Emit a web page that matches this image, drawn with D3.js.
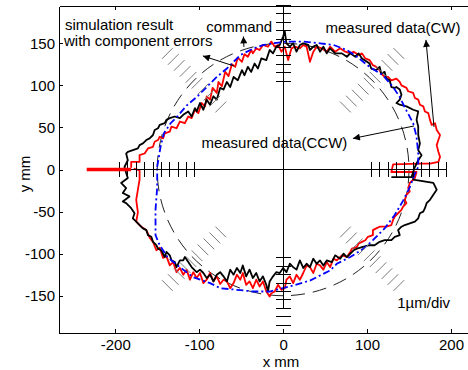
<!DOCTYPE html>
<html>
<head>
<meta charset="utf-8">
<script src="https://cdn.jsdelivr.net/npm/d3@7"></script>
<style>
  body { margin: 0; background: #fff; }
  svg { display: block; font-family: Arial, "Liberation Sans", sans-serif; }
</style>
</head>
<body>
<div class="polar-chart"></div>
<script>
// axis ticks (mm)
const xTicks = [-200, -100, 0, 100, 200];
const yTicks = [-150, -100, -50, 0, 50, 100, 150];

// commanded circle radius (mm)
const commandRadius = 150;

// 1um/div scale marks: radii and directions
const scaleRadii = [105, 115, 125, 135, 145, 155, 165, 175, 185, 195];
const scaleAngles = [0, 45, 90, 135, 180, 225, 270, 315];

// approach segment of the CW run
const leadIn = [[-234, 0], [-181, 0]];

// measured data (CW), x/y mm
const cwData = [
  [-181,2],[-181,9],[-171,9],[-171,17],[-165,19],[-161,25],[-155,27],[-153,33],[-149,35],[-147,39],
  [-143,37],[-141,43],[-135,45],[-133,51],[-127,49],[-123,57],[-117,55],[-113,63],[-109,61],[-105,71],
  [-101,67],[-97,79],[-93,75],[-91,87],[-87,83],[-84,97],[-79,91],[-77,104],[-73,99],[-69,116],
  [-65,111],[-61,125],[-57,122],[-54,133],[-49,128],[-46,137],[-42,134],[-38,142],[-36,138],[-32,144],
  [-28,142],[-24,148],[-18,146],[-14,152],[-10,146],[-6,148],[-2,140],[2,146],[6,130],[10,144],
  [14,146],[20,144],[24,148],[28,146],[32,128],[36,140],[40,146],[46,144],[52,140],[56,146],
  [62,140],[68,144],[74,140],[80,138],[84,140],[90,136],[94,138],[98,132],[103,130],[107,124],
  [111,122],[115,118],[117,114],[121,110],[125,110],[129,106],[135,108],[139,104],[141,100],[147,97],
  [149,93],[155,91],[157,85],[161,83],[163,77],[167,75],[169,69],[173,67],[175,59],[177,53],
  [181,55],[183,47],[187,41],[185,35],[183,29],[185,21],[187,15],[185,9],[175,7],[163,7],
  [131,6],[129,-3],[159,-3],[157,-10],[155,-12],[151,-16],[149,-22],[151,-26],[147,-30],[145,-36],
  [147,-40],[143,-44],[141,-48],[137,-52],[133,-56],[131,-60],[129,-66],[123,-68],[115,-68],[111,-70],
  [107,-72],[107,-78],[101,-80],[98,-84],[94,-86],[90,-88],[88,-92],[82,-94],[80,-98],[76,-104],
  [70,-102],[64,-108],[60,-106],[56,-116],[52,-110],[48,-119],[44,-114],[40,-112],[36,-123],[32,-116],
  [28,-114],[24,-123],[20,-131],[16,-125],[12,-135],[8,-127],[4,-131],[2,-141],[-2,-143],[-6,-137],
  [-10,-145],[-14,-147],[-16,-151],[-20,-145],[-24,-133],[-28,-139],[-32,-131],[-36,-141],[-40,-133],[-44,-137],
  [-48,-123],[-51,-131],[-55,-125],[-59,-135],[-63,-141],[-67,-133],[-71,-131],[-75,-136],[-79,-127],[-83,-133],
  [-87,-123],[-91,-131],[-95,-135],[-99,-123],[-103,-129],[-107,-122],[-111,-131],[-115,-119],[-119,-125],[-123,-117],
  [-127,-122],[-131,-110],[-135,-114],[-139,-103],[-143,-105],[-147,-93],[-151,-96],[-155,-86],[-159,-81],[-163,-72],
  [-169,-68],[-175,-62],[-173,-51],[-175,-36],[-173,-24],[-171,-12],[-171,-1],[-178,1]
];

// measured data (CCW), x/y mm
const ccwData = [
  [129,-9],[155,-9],[155,-12],[179,-16],[183,-24],[179,-30],[175,-36],[171,-40],[169,-46],[167,-50],
  [163,-52],[161,-58],[157,-62],[151,-64],[145,-66],[141,-68],[137,-72],[139,-78],[133,-80],[129,-84],
  [121,-84],[115,-86],[109,-90],[103,-90],[95,-92],[88,-94],[84,-96],[76,-104],[72,-100],[68,-106],
  [62,-102],[58,-110],[52,-108],[48,-114],[44,-108],[40,-112],[36,-106],[32,-116],[28,-112],[24,-117],
  [20,-108],[16,-119],[12,-116],[8,-112],[4,-122],[0,-117],[-4,-123],[-8,-122],[-12,-127],[-16,-133],
  [-18,-145],[-20,-137],[-24,-127],[-28,-133],[-32,-123],[-36,-129],[-40,-119],[-44,-127],[-48,-114],[-51,-123],
  [-55,-117],[-59,-125],[-63,-119],[-67,-133],[-71,-127],[-75,-122],[-79,-125],[-83,-133],[-87,-125],[-91,-129],
  [-95,-123],[-99,-119],[-103,-122],[-109,-116],[-113,-110],[-117,-104],[-119,-108],[-123,-108],[-127,-116],[-129,-110],
  [-133,-108],[-135,-102],[-139,-98],[-141,-104],[-145,-96],[-149,-94],[-151,-90],[-155,-86],[-157,-80],[-161,-78],
  [-163,-72],[-167,-70],[-171,-66],[-175,-62],[-179,-58],[-177,-52],[-181,-46],[-187,-40],[-191,-38],[-183,-32],
  [-191,-28],[-187,-22],[-193,-16],[-185,-10],[-187,-4],[-189,3],[-185,11],[-187,19],[-185,21],[-179,23],
  [-173,25],[-171,29],[-167,31],[-163,35],[-159,37],[-155,41],[-153,47],[-149,49],[-147,53],[-141,55],
  [-139,59],[-135,61],[-129,63],[-123,61],[-119,65],[-113,69],[-109,63],[-105,73],[-103,69],[-99,79],
  [-95,71],[-91,83],[-87,77],[-83,87],[-79,83],[-75,97],[-71,95],[-67,104],[-63,98],[-59,110],
  [-54,106],[-49,118],[-46,112],[-42,122],[-38,116],[-34,126],[-30,120],[-26,132],[-20,130],[-16,142],
  [-12,138],[-8,146],[-4,148],[0,158],[2,164],[4,150],[8,146],[12,150],[16,140],[20,148],
  [24,150],[30,148],[32,142],[36,146],[40,148],[44,140],[48,146],[52,138],[56,144],[62,138],
  [70,138],[76,134],[80,138],[86,134],[90,138],[94,132],[100,128],[103,126],[105,120],[111,118],
  [115,122],[117,114],[121,116],[123,108],[127,106],[129,98],[133,97],[135,98],[139,95],[141,89],
  [139,83],[135,79],[139,77],[147,75],[155,71],[161,69],[159,59],[161,51],[161,41],[163,31],
  [161,23],[165,17],[161,11],[157,3],[153,-9]
];

// simulation result with component errors, x/y mm
const simData = [
  [-150,3],[-146,27],[-142,43],[-134,55],[-126,63],[-115,76],[-103,86],[-91,98],[-79,110],[-67,120],
  [-51,136],[-35,144],[-23,148],[-12,150],[4,152],[24,152],[44,150],[60,148],[76,142],[88,134],
  [103,122],[119,112],[131,98],[139,86],[147,70],[155,55],[159,39],[161,19],[161,3],[157,-5],
  [151,-21],[143,-37],[133,-54],[121,-70],[107,-84],[96,-94],[80,-104],[64,-112],[56,-120],[32,-132],
  [8,-139],[-16,-145],[-35,-145],[-55,-143],[-75,-141],[-87,-135],[-107,-128],[-123,-116],[-138,-104],[-148,-88],
  [-152,-78],[-152,-48],[-150,-21],[-150,3]
];

const width = 468;
const height = 370;
const plotLeft = 59, plotRight = 503, plotTop = 6, plotBottom = 333;

const x = d3.scaleLinear().domain([-267, 262]).range([plotLeft, plotRight]);
const y = d3.scaleLinear().domain([-194.3, 194.3]).range([plotBottom, plotTop]);

const svg = d3.select(".polar-chart")
  .append("svg")
  .attr("width", width)
  .attr("height", height);

svg.append("defs").append("marker")
  .attr("id", "arrow")
  .attr("viewBox", "0 0 10 10")
  .attr("refX", 10)
  .attr("refY", 5)
  .attr("markerUnits", "userSpaceOnUse")
  .attr("markerWidth", 9)
  .attr("markerHeight", 7)
  .attr("orient", "auto")
  .append("path")
  .attr("d", "M0,0 L10,5 L0,10 z")
  .attr("fill", "#000");

const line = d3.line().x(d => x(d[0])).y(d => y(d[1]));

// commanded circle, dashed
svg.append("ellipse")
  .attr("cx", x(0))
  .attr("cy", y(0))
  .attr("rx", x(commandRadius) - x(0))
  .attr("ry", y(0) - y(commandRadius))
  .attr("fill", "none")
  .attr("stroke", "#222")
  .attr("stroke-width", 1)
  .attr("stroke-dasharray", "14,8");

// measured curves and simulation
svg.append("path").datum(cwData).attr("d", line)
  .attr("fill", "none").attr("stroke", "#ff0000").attr("stroke-width", 1.8).attr("stroke-linejoin", "round");
svg.append("path").datum(ccwData).attr("d", line)
  .attr("fill", "none").attr("stroke", "#000").attr("stroke-width", 1.8).attr("stroke-linejoin", "round");
svg.append("path").datum(simData).attr("d", line)
  .attr("fill", "none").attr("stroke", "#0000ff").attr("stroke-width", 1.8)
  .attr("stroke-dasharray", "7,3,2,3");

// cross lines through the centre
svg.append("line")
  .attr("x1", x(-195)).attr("x2", x(195)).attr("y1", y(0)).attr("y2", y(0))
  .attr("stroke", "#000").attr("stroke-width", 1).attr("shape-rendering", "crispEdges");
svg.append("line")
  .attr("x1", x(0)).attr("x2", x(0)).attr("y1", y(195)).attr("y2", y(-165))
  .attr("stroke", "#000").attr("stroke-width", 1).attr("shape-rendering", "crispEdges");

// scale marks, perpendicular to each radial direction
const half = 9;
const marks = [];
scaleAngles.forEach(a => {
  const t = a * Math.PI / 180;
  const c = Math.cos(t), s = Math.sin(t);
  scaleRadii.forEach(r => {
    marks.push({
      axis: a % 90 === 0,
      x1: r * c - half * s, y1: r * s + half * c,
      x2: r * c + half * s, y2: r * s - half * c
    });
  });
});
svg.append("g").selectAll("line")
  .data(marks)
  .enter()
  .append("line")
  .attr("x1", d => x(d.x1)).attr("y1", d => y(d.y1))
  .attr("x2", d => x(d.x2)).attr("y2", d => y(d.y2))
  .attr("stroke", d => d.axis ? "#000" : "#7a7a7a")
  .attr("stroke-width", 1)
  .attr("shape-rendering", d => d.axis ? "crispEdges" : null);

// red approach line
svg.append("path").datum(leadIn).attr("d", line)
  .attr("fill", "none").attr("stroke", "#ff0000").attr("stroke-width", 3.5);

// axes, ticks inward
const fmt = d => String(d);
const styleAxis = g => {
  g.attr("font-size", 15).attr("font-family", "Arial, 'Liberation Sans', sans-serif");
  g.selectAll("text").attr("fill", "#000");
  g.selectAll("line,path").attr("stroke", "#000").attr("shape-rendering", "crispEdges");
};
svg.append("g")
  .attr("transform", `translate(0,${plotBottom})`)
  .call(d3.axisBottom(x).tickValues(xTicks).tickFormat(fmt).tickSizeInner(-4).tickSizeOuter(0).tickPadding(6))
  .call(styleAxis);
svg.append("g")
  .attr("transform", `translate(0,${plotTop})`)
  .call(d3.axisTop(x).tickValues(xTicks).tickFormat("").tickSizeInner(-4).tickSizeOuter(0))
  .call(styleAxis);
svg.append("g")
  .attr("transform", `translate(${plotLeft},0)`)
  .call(d3.axisLeft(y).tickValues(yTicks).tickFormat(fmt).tickSizeInner(-4).tickSizeOuter(0).tickPadding(4))
  .call(styleAxis);

svg.append("text")
  .attr("x", 281).attr("y", 367)
  .attr("text-anchor", "middle").attr("font-size", 15)
  .text("x mm");
svg.append("text")
  .attr("transform", "translate(30,174) rotate(-90)")
  .attr("text-anchor", "middle").attr("font-size", 15)
  .text("y mm");

// annotations
const addLabel = (text, lx, ly, anchor) => {
  svg.append("text")
    .attr("x", x(lx)).attr("y", y(ly))
    .attr("text-anchor", anchor)
    .attr("font-size", 15)
    .attr("fill", "#000")
    .text(text);
};
addLabel("simulation result", -260, 165.9, "start");
addLabel("with component errors", -261, 146.8, "start");
addLabel("command", -13, 163.5, "end");
addLabel("measured data(CW)", 50.5, 162.3, "start");
addLabel("measured data(CCW)", 76.5, 25.5, "end");
addLabel("1\u00b5m/div", 136, -164.3, "start");

const addArrow = (fx, fy, tx, ty) => {
  svg.append("line")
    .attr("x1", x(fx)).attr("y1", y(fy))
    .attr("x2", x(tx)).attr("y2", y(ty))
    .attr("stroke", "#000").attr("stroke-width", 1)
    .attr("marker-end", "url(#arrow)");
};
addArrow(-58.6, 123, -95.6, 135);
addArrow(-46.7, 145.7, -47.3, 158.1);
addArrow(179.8, 50.5, 170.2, 154);
addArrow(156, 51.7, 83.2, 36.9);
</script>
</body>
</html>
